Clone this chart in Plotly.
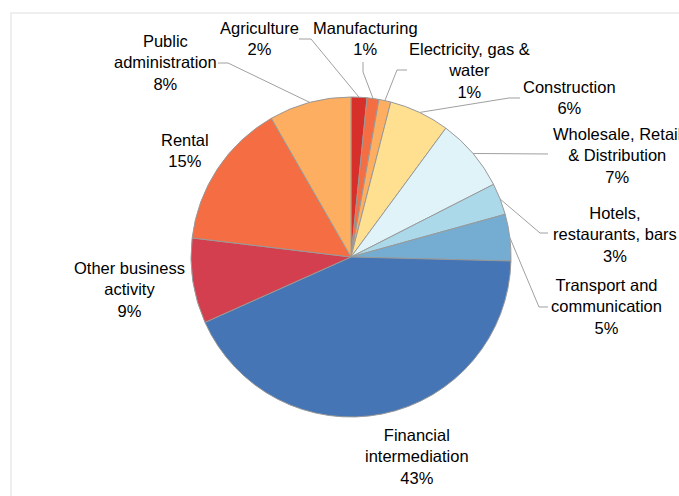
import math
import plotly.graph_objects as go

# Gross value added by sector (share of total, %)
sectors = [
    "Agriculture",
    "Manufacturing",
    "Electricity, gas &<br>water",
    "Construction",
    "Wholesale, Retail<br>& Distribution",
    "Hotels,<br>restaurants, bars",
    "Transport and<br>communication",
    "Financial<br>intermediation",
    "Other business<br>activity",
    "Rental",
    "Public<br>administration",
]
shares = [1.6, 1.2, 1.2, 6.1, 7.4, 3.2, 4.7, 42.9, 8.6, 14.8, 8.3]
colors = [
    "#D7302A", "#F46D43", "#FDAE61", "#FEE090", "#E0F3F8", "#ABD9E9",
    "#74ADD1", "#4575B4", "#D33F4F", "#F46D43", "#FDAE61",
]

W, H = 679, 496
CX, CY, R = 351, 257, 160

# label block centres (pixels from top-left)
label_pos = [
    (259, 38), (365, 38), (469, 70), (569, 97), (617, 155), (615, 234),
    (606, 306), (417, 456), (129, 289), (185, 150), (165, 63),
]
# leader line elbows (pixels); None where the label sits beside its slice
leader_start = [
    [(299, 39), (311, 39)],
    [(363, 62), (363, 72)],
    [(407, 70), (397, 70)],
    [(520, 98), (509, 98)],
    [(548, 154)],
    [(548, 233), (540, 233)],
    [(548, 307), (539, 307)],
    None, None, None,
    [(218, 63), (228, 63)],
]


def px(x):
    return x / W


def py(y):
    return 1 - y / H


fig = go.Figure()
fig.add_trace(go.Pie(
    labels=[s.replace("<br>", " ") for s in sectors],
    values=shares,
    sort=False,
    direction="clockwise",
    rotation=0,
    marker=dict(colors=colors, line=dict(color="#999999", width=1)),
    textinfo="none",
    hoverinfo="label+percent",
    showlegend=False,
    domain=dict(x=[px(CX - R), px(CX + R)], y=[py(CY + R), py(CY - R)]),
))

total = sum(shares)
annotations = []
shapes = []
cum = 0.0
for name, v, (lx, ly), pts in zip(sectors, shares, label_pos, leader_start):
    mid = (cum + v / 2) / total * 2 * math.pi
    cum += v
    pct = round(v / total * 100)
    annotations.append(dict(
        x=px(lx), y=py(ly), xref="paper", yref="paper",
        text=f"{name}<br>{pct}%", showarrow=False,
        xanchor="center", yanchor="middle", align="center",
        font=dict(family="Liberation Sans, Arial, sans-serif", size=16.5, color="#000000"),
    ))
    if pts:
        ex = CX + R * math.sin(mid)
        ey = CY - R * math.cos(mid)
        path_pts = pts + [(ex, ey)]
        d = "M " + " L ".join(f"{px(x):.5f},{py(y):.5f}" for x, y in path_pts)
        shapes.append(dict(type="path", xref="paper", yref="paper", path=d,
                           line=dict(color="#a0a0a0", width=1)))

# chart frame
shapes.append(dict(type="rect", xref="paper", yref="paper",
                   x0=px(11), y0=py(H + 20), x1=px(W + 20), y1=py(13),
                   line=dict(color="#eeeeee", width=2), layer="below"))

fig.update_layout(
    width=W, height=H,
    margin=dict(l=0, r=0, t=0, b=0),
    paper_bgcolor="white",
    plot_bgcolor="white",
    annotations=annotations,
    shapes=shapes,
)

fig.write_html("out.html")
